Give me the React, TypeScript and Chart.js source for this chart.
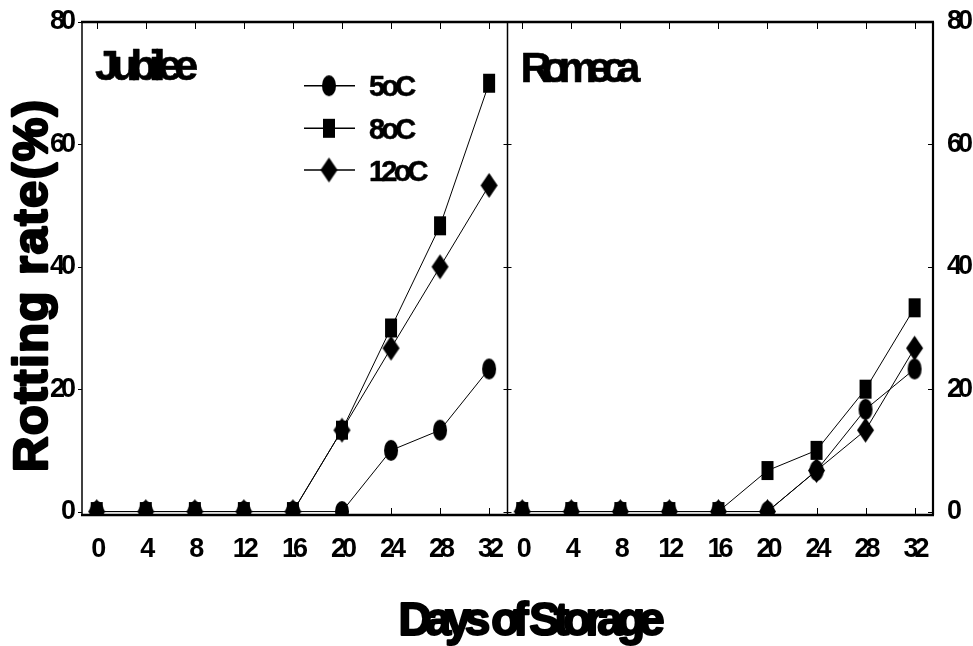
import { useEffect, useRef } from 'react';
import { Chart, registerables } from 'chart.js';

Chart.register(...registerables);

// ---- data ----
const DAYS = [0, 4, 8, 12, 16, 20, 24, 28, 32];
const SERIES_LABELS = ['5oC', '8oC', '12oC'];
const JUBILEE_5C = [0, 0, 0, 0, 0, 0, 10, 13.3, 23.3];
const JUBILEE_8C = [0, 0, 0, 0, 0, 13.3, 30, 46.7, 70];
const JUBILEE_12C = [0, 0, 0, 0, 0, 13.3, 26.7, 40, 53.3];
const ROMECA_5C = [0, 0, 0, 0, 0, 0, 6.7, 16.7, 23.3];
const ROMECA_8C = [0, 0, 0, 0, 0, 6.7, 10, 20, 33.3];
const ROMECA_12C = [0, 0, 0, 0, 0, 0, 6.7, 13.3, 26.7];
const X_TICKS = [0, 4, 8, 12, 16, 20, 24, 28, 32];
const Y_TICKS = [0, 20, 40, 60, 80];
const PANEL_NAMES = ['Jubilee', 'Romeca'];
const Y_TITLE = 'Rotting rate(%)';
const X_TITLE = 'Days of Storage';

const FAMILY = '"Liberation Sans", Arial, Helvetica, sans-serif';

function makeMarker(kind: string, w: number, h: number): HTMLCanvasElement {
  const c = document.createElement('canvas');
  c.width = w + 2;
  c.height = h + 2;
  const g = c.getContext('2d')!;
  g.fillStyle = '#000';
  const cx = c.width / 2;
  const cy = c.height / 2;
  g.beginPath();
  if (kind === 'circle') {
    g.ellipse(cx, cy, w / 2, h / 2, 0, 0, Math.PI * 2);
  } else if (kind === 'square') {
    g.rect(cx - w / 2, cy - h / 2, w, h);
  } else {
    g.moveTo(cx, cy - h / 2);
    g.lineTo(cx + w / 2, cy);
    g.lineTo(cx, cy + h / 2);
    g.lineTo(cx - w / 2, cy);
    g.closePath();
  }
  g.fill();
  return c;
}

function drawLabel(
  ctx: CanvasRenderingContext2D,
  text: string,
  x: number,
  y: number,
  o: { size: number; spacing: number; align: string; stroke?: number; angle?: number }
) {
  ctx.save();
  ctx.translate(x, y);
  if (o.angle) ctx.rotate(o.angle);
  ctx.font = `bold ${o.size}px ${FAMILY}`;
  (ctx as any).letterSpacing = `${o.spacing}px`;
  ctx.textAlign = 'left';
  ctx.textBaseline = 'alphabetic';
  const w = ctx.measureText(text).width - o.spacing;
  const dx = o.align === 'center' ? -w / 2 : 0;
  ctx.fillStyle = '#000';
  ctx.fillText(text, dx, 0);
  if (o.stroke) {
    ctx.lineWidth = o.stroke;
    ctx.strokeStyle = '#000';
    ctx.lineJoin = 'round';
    ctx.strokeText(text, dx, 0);
  }
  ctx.restore();
}

const framePlugin = {
  id: 'frame',
  beforeDraw(chart: any) {
    chart.ctx.letterSpacing = '-4px';
  },
  beforeDatasetsDraw(chart: any) {
    const ctx: CanvasRenderingContext2D = chart.ctx;
    const ca = chart.chartArea;
    const xJ = chart.scales.xJ;
    const xR = chart.scales.xR;
    const y = chart.scales.y;
    const xd = xJ.right;
    ctx.save();
    ctx.strokeStyle = '#000';
    const line = (x1: number, y1: number, x2: number, y2: number, lw: number) => {
      ctx.lineWidth = lw;
      ctx.beginPath();
      ctx.moveTo(x1, y1);
      ctx.lineTo(x2, y2);
      ctx.stroke();
    };
    line(ca.left - 1, ca.top, ca.right + 1, ca.top, 2.5);
    line(ca.left - 1, ca.bottom + 1, ca.right + 1, ca.bottom + 1, 2.5);
    line(ca.left, ca.top, ca.left, ca.bottom + 1, 1.5);
    line(ca.right, ca.top, ca.right, ca.bottom + 1, 2.2);
    line(xd, ca.top, xd, ca.bottom + 1, 1.5);
    for (const s of [xJ, xR]) {
      for (const v of X_TICKS) {
        const px = Math.round(s.getPixelForValue(v)) + 0.5;
        line(px, ca.top, px, ca.top + 7, 1);
        line(px, ca.bottom, px, ca.bottom - 6, 1);
      }
    }
    for (const v of Y_TICKS) {
      const py = Math.round(y.getPixelForValue(v)) + 0.5;
      line(ca.left - 4, py, ca.left, py, 1);
      line(xd - 4, py, xd + 4, py, 1);
      line(ca.right - 5, py, ca.right, py, 1);
    }
    ctx.restore();
  },
  afterDraw(chart: any) {
    const ctx: CanvasRenderingContext2D = chart.ctx;
    const ca = chart.chartArea;
    const xJ = chart.scales.xJ;
    const xR = chart.scales.xR;
    // panel names
    drawLabel(ctx, PANEL_NAMES[0], xJ.left + 13, ca.top + 58, { size: 43, spacing: -7.5, align: 'left', stroke: 0.6 });
    drawLabel(ctx, PANEL_NAMES[1], xR.left + 13, ca.top + 60, { size: 43, spacing: -9.5, align: 'left', stroke: 0.6 });
    // axis titles
    drawLabel(ctx, Y_TITLE, 47, (ca.top + ca.bottom) / 2 + 18, {
      size: 49, spacing: 1.5, align: 'center', stroke: 2.5, angle: -Math.PI / 2,
    });
    drawLabel(ctx, X_TITLE, (ca.left + ca.right) / 2 + 24, 635, { size: 46, spacing: -6, align: 'center', stroke: 2 });
    // legend
    const rows = [63.7, 106.3, 148];
    chart.data.datasets.slice(0, 3).forEach((ds: any, i: number) => {
      const ry = ca.top + rows[i];
      ctx.save();
      ctx.strokeStyle = '#000';
      ctx.lineWidth = 1.5;
      ctx.beginPath();
      ctx.moveTo(ca.left + 222, ry);
      ctx.lineTo(ca.left + 273, ry);
      ctx.stroke();
      const img: HTMLCanvasElement = ds.pointStyle;
      ctx.drawImage(img, ca.left + 247 - img.width / 2, ry - img.height / 2);
      ctx.restore();
      drawLabel(ctx, ds.label, ca.left + 287, ry + 10.5, { size: 29, spacing: -3.8, align: 'left', stroke: 0.5 });
    });
  },
};

export default function App() {
  const ref = useRef<HTMLCanvasElement | null>(null);

  useEffect(() => {
    if (!ref.current) return;
    const markers = [
      makeMarker('circle', 14, 21),
      makeMarker('square', 12, 19),
      makeMarker('diamond', 17, 25),
    ];
    const pts = (vals: number[]) => DAYS.map((d, i) => ({ x: d, y: vals[i] }));
    const mk = (label: string, vals: number[], m: number, xAxisID: string, yAxisID: string) => ({
      label,
      data: pts(vals),
      xAxisID,
      yAxisID,
      borderColor: '#000',
      backgroundColor: '#000',
      borderWidth: 1,
      pointStyle: markers[m],
      pointRadius: 6,
      pointHoverRadius: 6,
      fill: false,
      tension: 0,
    });
    const font = { family: FAMILY, size: 27, weight: 'bold' as const };
    const xAxis = () => ({
      type: 'linear' as const,
      position: 'bottom' as const,
      stack: 'panels',
      stackWeight: 1,
      min: -1.2,
      max: 33.5,
      afterBuildTicks: (s: any) => {
        s.ticks = X_TICKS.map((v) => ({ value: v }));
      },
      afterFit: (s: any) => {
        s.height = 132;
        s.paddingLeft = 0;
        s.paddingRight = 0;
      },
      grid: { display: false, drawTicks: false },
      border: { display: false },
      ticks: { font, color: '#000', padding: 19, maxRotation: 0, autoSkip: false },
    });
    const yAxis = (position: 'left' | 'right', width: number, padding: number) => ({
      type: 'linear' as const,
      position,
      min: -0.4,
      max: 80,
      afterBuildTicks: (s: any) => {
        s.ticks = Y_TICKS.map((v) => ({ value: v }));
      },
      afterFit: (s: any) => {
        s.width = width;
        s.paddingTop = 0;
        s.paddingBottom = 0;
      },
      grid: { display: false, drawTicks: false },
      border: { display: false },
      ticks: { font, color: '#000', padding },
    });

    const chart = new Chart(ref.current, {
      type: 'line',
      data: {
        datasets: [
          mk(SERIES_LABELS[0], JUBILEE_5C, 0, 'xJ', 'y'),
          mk(SERIES_LABELS[1], JUBILEE_8C, 1, 'xJ', 'y'),
          mk(SERIES_LABELS[2], JUBILEE_12C, 2, 'xJ', 'y'),
          mk(SERIES_LABELS[0], ROMECA_5C, 0, 'xR', 'yR'),
          mk(SERIES_LABELS[1], ROMECA_8C, 1, 'xR', 'yR'),
          mk(SERIES_LABELS[2], ROMECA_12C, 2, 'xR', 'yR'),
        ],
      },
      options: {
        responsive: false,
        animation: false,
        devicePixelRatio: 1,
        layout: { padding: { top: 22, left: 0, right: 0, bottom: 0 } },
        plugins: { legend: { display: false }, tooltip: { enabled: false } },
        scales: {
          xJ: xAxis(),
          xR: xAxis(),
          y: yAxis('left', 82, 10),
          yR: yAxis('right', 40, 14),
        } as any,
      },
      plugins: [framePlugin],
    } as any);
    return () => chart.destroy();
  }, []);

  return (
    <div style={{ position: 'absolute', left: 0, top: 0, width: 973, height: 646, background: '#fff' }}>
      <canvas ref={ref} width={973} height={646} style={{ display: 'block' }} />
    </div>
  );
}
